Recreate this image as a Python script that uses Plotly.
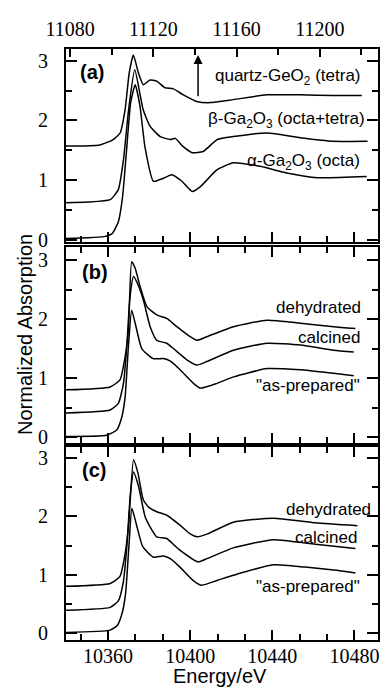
import plotly.graph_objects as go

# ---------------- data ----------------
# Panel (a): Ge K-edge reference (top axis energies, eV)
quartz_E = [11078, 11094.3, 11100.7, 11104, 11106.4, 11108.4, 11110.4, 11112.8, 11115.2, 11118.4,
            11121.6, 11125.6, 11129.6, 11134.4, 11140.8, 11147.2, 11158.4, 11174.5, 11190.5, 11206.5, 11220.2]
quartz_V = [1.57, 1.59, 1.68, 1.79, 2.18, 2.80, 3.10, 2.80, 2.60, 2.68,
            2.66, 2.55, 2.53, 2.43, 2.32, 2.30, 2.35, 2.43, 2.43, 2.42, 2.42]

# Panel (a): Ga K-edge references (bottom axis energies, eV)
beta_E = [10339.5, 10350, 10361, 10365, 10367.5, 10370, 10373, 10377.1, 10380.5, 10385.4,
          10390.3, 10392.7, 10396.6, 10401, 10406.3, 10413.2, 10421, 10437.6, 10453.7, 10469.8, 10486.4]
beta_V = [0.62, 0.63, 0.67, 0.84, 1.34, 2.18, 2.85, 2.18, 1.90, 1.73,
          1.68, 1.70, 1.56, 1.46, 1.48, 1.68, 1.73, 1.79, 1.71, 1.65, 1.65]

alpha_E = [10339.5, 10350, 10358, 10362, 10365, 10367, 10369, 10371, 10373.2, 10375.5, 10378,
           10382.1, 10387, 10391, 10396, 10401, 10405, 10413, 10421, 10434, 10447, 10462, 10486]
alpha_V = [0.02, 0.03, 0.05, 0.10, 0.30, 0.70, 1.50, 2.30, 2.60, 2.25, 1.55,
           0.98, 1.03, 1.09, 0.98, 0.81, 0.89, 1.17, 1.29, 1.23, 1.12, 1.04, 1.06]

# Panel (b)
b_asprep_E = [10339.5, 10359.3, 10364.2, 10366.7, 10368.3, 10369.9, 10371.5, 10373.6, 10376.4, 10381.9,
              10387, 10390.2, 10395.1, 10401.6, 10404.9, 10413, 10421.1, 10437.4, 10453.7, 10469.9, 10479.7]
b_asprep_V = [0.01, 0.03, 0.12, 0.34, 0.68, 1.53, 2.15, 1.87, 1.50, 1.33,
              1.33, 1.29, 1.14, 0.91, 0.83, 0.91, 1.02, 1.16, 1.14, 1.08, 1.04]

b_calc_E = [10339.5, 10361, 10365, 10367.5, 10369.1, 10370.7, 10372.4, 10374.6, 10377.2, 10380.5, 10383.7,
            10388.6, 10391.8, 10398.4, 10403.3, 10408.1, 10421.1, 10437.4, 10453.7, 10469.9, 10479.7]
b_calc_V = [0.41, 0.46, 0.57, 0.91, 1.53, 2.38, 2.72, 2.58, 2.32, 1.87, 1.64,
            1.59, 1.50, 1.31, 1.22, 1.28, 1.47, 1.59, 1.56, 1.47, 1.44]

b_dehy_E = [10339.5, 10361, 10365.8, 10368.3, 10369.9, 10371.5, 10373.2, 10375.6, 10378.9, 10383.7,
            10388.6, 10393.5, 10400, 10403.3, 10408.1, 10421.1, 10437.4, 10453.7, 10469.9, 10480.5]
b_dehy_V = [0.80, 0.85, 0.97, 1.36, 1.81, 2.97, 2.86, 2.55, 2.21, 2.07,
            2.01, 1.87, 1.70, 1.64, 1.70, 1.87, 1.98, 1.93, 1.87, 1.84]

# Panel (c)
c_asprep_E = [10339.5, 10361, 10364.5, 10367, 10368.6, 10370.2, 10371.6, 10373.8, 10376.9, 10382,
              10387, 10390.5, 10395, 10401.5, 10405.6, 10413, 10421, 10440.5, 10456, 10470, 10480.5]
c_asprep_V = [0.01, 0.05, 0.13, 0.36, 0.70, 1.52, 2.14, 1.86, 1.48, 1.30,
              1.32, 1.27, 1.13, 0.90, 0.82, 0.90, 0.99, 1.17, 1.13, 1.08, 1.03]

c_calc_E = [10339.5, 10361, 10365, 10367.5, 10369.2, 10370.8, 10372.4, 10374.8, 10378, 10380.8, 10383.7,
            10388.6, 10391.8, 10395, 10403.8, 10408.5, 10421, 10440.5, 10461, 10480.5]
c_calc_V = [0.39, 0.44, 0.55, 0.89, 1.52, 2.36, 2.76, 2.52, 2.00, 1.80, 1.65,
            1.62, 1.52, 1.42, 1.22, 1.28, 1.46, 1.60, 1.52, 1.45]

c_dehy_E = [10339.5, 10361, 10365.8, 10368.3, 10370, 10372.4, 10374.5, 10377.2, 10380, 10383.7,
            10388.6, 10395, 10400, 10403.3, 10408.5, 10421, 10440.5, 10461, 10481.5]
c_dehy_V = [0.80, 0.85, 0.97, 1.36, 1.85, 2.97, 2.75, 2.28, 2.15, 2.08,
            2.02, 1.85, 1.70, 1.65, 1.70, 1.90, 1.97, 1.89, 1.84]

bottom_ticks = [10360, 10400, 10440, 10480]
top_ticks = [11080, 11120, 11160, 11200]
y_ticks = [0, 1, 2, 3]

# ---------------- figure ----------------
W, H = 385, 689
def px_x(p): return p / W
def px_y(p): return 1 - p / H

xdom = [px_x(66), px_x(378)]
dom_a = [px_y(242), px_y(49)]
dom_b = [px_y(443), px_y(247)]
dom_c = [px_y(640), px_y(447)]

line = dict(color="black", width=1.5, shape="spline", smoothing=0.5)
fig = go.Figure()

def add(E, V, xa, ya):
    fig.add_trace(go.Scatter(x=E, y=V, mode="lines", line=line, xaxis=xa, yaxis=ya,
                             showlegend=False, hoverinfo="skip"))

add(quartz_E, quartz_V, "x4", "y")
add(beta_E, beta_V, "x", "y")
add(alpha_E, alpha_V, "x", "y")
add(b_asprep_E, b_asprep_V, "x2", "y2")
add(b_calc_E, b_calc_V, "x2", "y2")
add(b_dehy_E, b_dehy_V, "x2", "y2")
add(c_asprep_E, c_asprep_V, "x3", "y3")
add(c_calc_E, c_calc_V, "x3", "y3")
add(c_dehy_E, c_dehy_V, "x3", "y3")

serif = dict(family="Liberation Serif, Times New Roman, serif", size=20, color="black")
sans = "Liberation Sans, Arial, sans-serif"
xrange_ga = [10339.5, 10491.5]

common_x = dict(domain=xdom, range=xrange_ga, tickvals=bottom_ticks, tickformat="d", ticks="inside",
                ticklen=10, tickwidth=1.8, tickcolor="black", showline=True, linewidth=2,
                linecolor="black", showgrid=False, zeroline=False, tickfont=serif, automargin=False,
                minor=dict(tick0=10360, dtick=40/3, ticks="inside", ticklen=6, tickwidth=1.5,
                           tickcolor="black", showgrid=False))
common_y = dict(tickvals=y_ticks, tickformat="d", ticks="inside", ticklen=11, tickwidth=1.8,
                tickcolor="black", showline=True, linewidth=2, linecolor="black", mirror="ticks",
                showgrid=False, zeroline=False, tickfont=serif, ticklabelstandoff=12, automargin=False,
                minor=dict(dtick=0.5, tick0=0, ticks="inside", ticklen=6, tickwidth=1.5,
                           tickcolor="black", showgrid=False))

fig.update_layout(
    width=W, height=H, margin=dict(l=0, r=0, t=0, b=0, pad=0, autoexpand=False),
    paper_bgcolor="white", plot_bgcolor="white", showlegend=False,
    xaxis=dict(common_x, anchor="y", showticklabels=False, mirror=False),
    xaxis2=dict(common_x, anchor="y2", showticklabels=False, mirror="ticks"),
    xaxis3=dict(common_x, anchor="y3", showticklabels=True, mirror="ticks", ticklabelstandoff=-3),
    xaxis4=dict(overlaying="x", anchor="y", side="top", range=[11078, 11228], tickvals=top_ticks,
                tickformat="d", ticks="inside", ticklen=8, tickwidth=1.8, tickcolor="black",
                showline=True, linewidth=2, linecolor="black", showgrid=False, zeroline=False,
                tickfont=serif, ticklabelstandoff=3, automargin=False,
                minor=dict(tick0=11080, dtick=20, ticks="inside", ticklen=6, tickwidth=1.5,
                           tickcolor="black", showgrid=False)),
    yaxis=dict(common_y, domain=dom_a, anchor="x", range=[-0.04, 3.2]),
    yaxis2=dict(common_y, domain=dom_b, anchor="x2", range=[-0.1, 3.22]),
    yaxis3=dict(common_y, domain=dom_c, anchor="x3", range=[-0.12, 3.19]),
)

def label(text, x, y, xa, ya, size=17, anchor="right", bold=False):
    fig.add_annotation(text=("<b>%s</b>" % text) if bold else text, x=x, y=y, xref=xa, yref=ya,
                       showarrow=False, xanchor=anchor, yanchor="middle",
                       font=dict(family=sans, size=size, color="black"))

label("quartz-GeO<sub>2</sub> (tetra)", 10484.4, 2.73, "x", "y")
label("β-Ga<sub>2</sub>O<sub>3</sub> (octa+tetra)", 10486.3, 2.01, "x", "y")
label("α-Ga<sub>2</sub>O<sub>3</sub> (octa)", 10483.9, 1.31, "x", "y")
label("(a)", 10345.4, 2.82, "x", "y", size=20, anchor="left", bold=True)

label("dehydrated", 10484.4, 2.19, "x2", "y2")
label("calcined", 10483.9, 1.68, "x2", "y2")
label("\"as-prepared\"", 10483.9, 0.88, "x2", "y2")
label("(b)", 10346.3, 2.8, "x2", "y2", size=20, anchor="left", bold=True)

label("dehydrated", 10489.3, 2.11, "x3", "y3")
label("calcined", 10482.0, 1.63, "x3", "y3")
label("\"as-prepared\"", 10483.9, 0.79, "x3", "y3")
label("(c)", 10346.3, 2.8, "x3", "y3", size=20, anchor="left", bold=True)

# arrow in panel (a)
fig.add_annotation(x=11141.5, y=3.1, ax=11141.5, ay=2.38, xref="x4", yref="y", axref="x4", ayref="y",
                   text="", showarrow=True, arrowhead=2, arrowsize=1.2, arrowwidth=1.5, arrowcolor="black")

# axis titles
fig.add_annotation(text="Normalized Absorption", x=px_x(25), y=px_y(335), xref="paper", yref="paper",
                   showarrow=False, textangle=-90, xanchor="center", yanchor="middle",
                   font=dict(family=sans, size=20, color="black"))
fig.add_annotation(text="Energy/eV", x=px_x(220), y=px_y(676), xref="paper", yref="paper",
                   showarrow=False, xanchor="center", yanchor="middle",
                   font=dict(family=sans, size=20, color="black"))

fig.write_html("out.html")
